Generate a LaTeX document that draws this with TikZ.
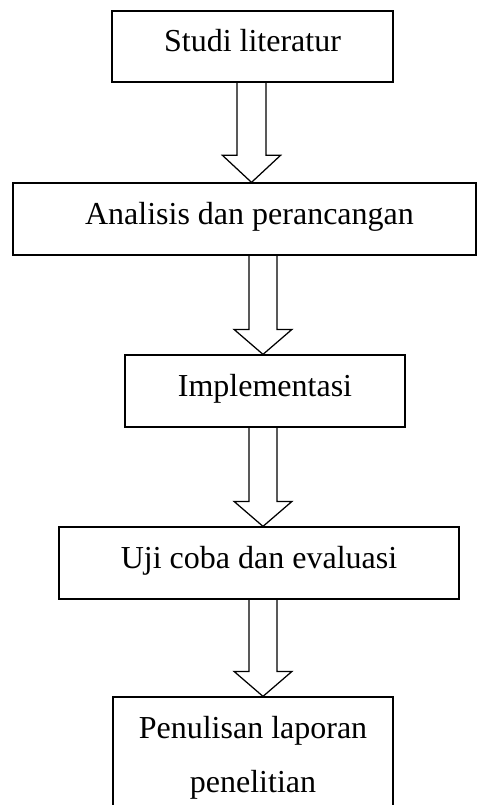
\documentclass[tikz,border=0pt]{standalone}
\usepackage{fontspec}
\setmainfont{Liberation Serif}
\usetikzlibrary{calc}
\tikzset{
  box/.style={draw=black, line width=1.25pt, rectangle, inner sep=0pt,
    font=\fontsize{32pt}{54pt}\selectfont, text height=20pt, text depth=10pt},
  boxml/.style={draw=black, line width=1.25pt, rectangle, inner sep=0pt,
    font=\fontsize{32pt}{54pt}\selectfont, align=center},
  arr/.style={draw=black, line width=1.25pt, line join=miter}
}
\newcommand\blockarr[5]{% from, to, axis coordinate, half shaft, head length
  \draw[arr] ($(#1.south -| #3)+(-#4,0)$) -- ($(#2.north -| #3)+(-#4,#5)$)
    -- ($(#2.north -| #3)+(-29pt,#5)$) -- (#2.north -| #3)
    -- ($(#2.north -| #3)+(29pt,#5)$) -- ($(#2.north -| #3)+(#4,#5)$)
    -- ($(#1.south -| #3)+(#4,0)$);
}
\begin{document}
\begin{tikzpicture}
\useasboundingbox (0,0) rectangle (477pt,-805pt);
\node[box, minimum width=281pt, minimum height=71pt] (b1) at (252.5pt,-46.5pt) {Studi literatur};
\node[box, minimum width=463pt, minimum height=72pt] (b2) at (244.5pt,-219pt) {\hspace*{10pt}Analisis dan perancangan};
\node[box, minimum width=280pt, minimum height=72pt] (b3) at (265pt,-391pt) {Implementasi};
\node[box, minimum width=400pt, minimum height=72pt] (b4) at (259pt,-563pt) {Uji coba dan evaluasi};
\node[boxml, minimum width=280pt, minimum height=121pt] (b5) at (253pt,-757.5pt) {Penulisan laporan\\penelitian};
\coordinate (ax1) at (251.5pt,0);
\coordinate (ax2) at (263pt,0);
\blockarr{b1}{b2}{ax1}{14.5pt}{27pt}
\blockarr{b2}{b3}{ax2}{14pt}{25pt}
\blockarr{b3}{b4}{ax2}{14pt}{25pt}
\blockarr{b4}{b5}{ax2}{14pt}{25pt}
\end{tikzpicture}
\end{document}
